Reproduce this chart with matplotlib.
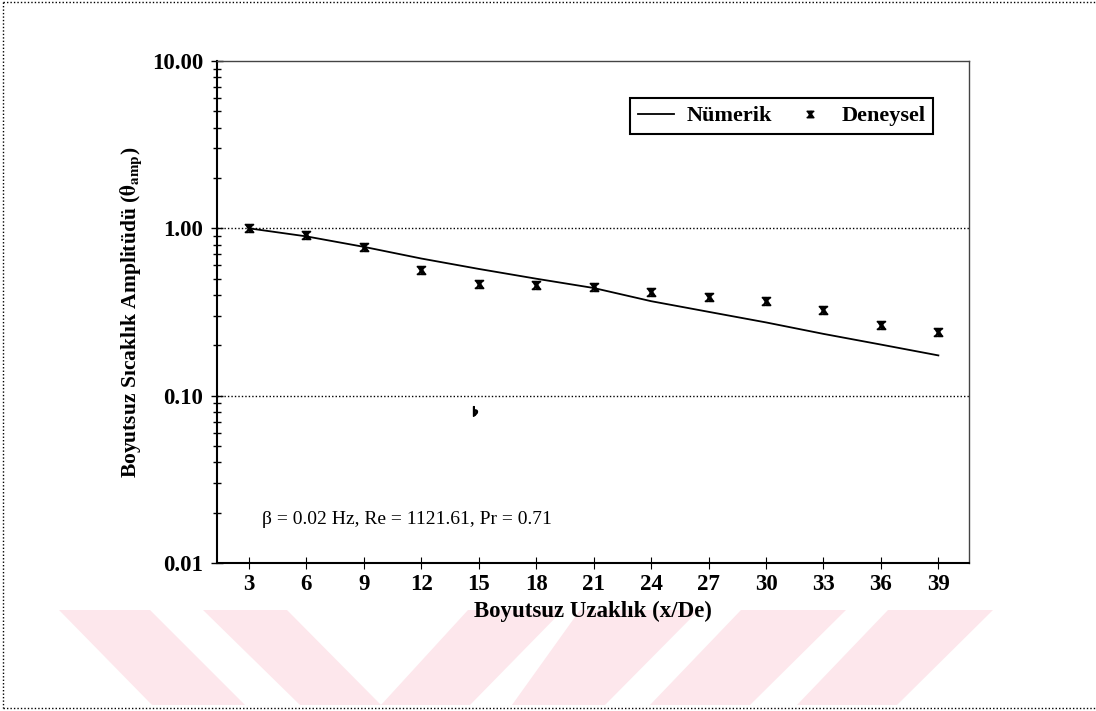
import matplotlib
matplotlib.use("Agg")
import matplotlib.pyplot as plt
from matplotlib.patches import Polygon
from matplotlib.lines import Line2D
from matplotlib.ticker import FixedLocator, LogLocator, NullFormatter

plt.rcParams['font.family'] = ['Liberation Serif', 'DejaVu Serif']
plt.rcParams['mathtext.fontset'] = 'stix'

# ---- data ----
x_num = [3, 6, 9, 12, 15, 18, 21, 24, 27, 30, 33, 36, 39]
y_num = [1.00, 0.895, 0.775, 0.66, 0.572, 0.50, 0.44, 0.367, 0.317, 0.274, 0.234, 0.202, 0.174]
x_exp = [3, 6, 9, 12, 15, 18, 21, 24, 27, 30, 33, 36, 39]
y_exp = [1.00, 0.915, 0.773, 0.56, 0.462, 0.46, 0.445, 0.419, 0.391, 0.370, 0.327, 0.265, 0.240]
stray_x = [14.8]
stray_y = [0.081]
x_ticks = [3, 6, 9, 12, 15, 18, 21, 24, 27, 30, 33, 36, 39]
y_ticks = [0.01, 0.1, 1.0, 10.0]
y_ticklabels = ['0.01', '0.10', '1.00', '10.00']
annotation = r'β = 0.02 Hz, Re = 1121.61, Pr = 0.71'

W, H = 1096, 711
fig = plt.figure(figsize=(W / 100, H / 100), dpi=100)

# watermark (light pink stripes), pixel coords -> figure fraction
def px(pts):
    return [(x / W, 1 - y / H) for x, y in pts]

wm_color = '#fde7ec'
stripes = [
    [(59, 610), (150, 610), (245, 705), (152, 705)],
    [(203, 610), (287, 610), (381, 705), (300, 705)],
    [(468, 610), (563, 610), (470, 705), (381, 705)],
    [(580, 610), (699, 610), (605, 705), (512, 705)],
    [(741, 610), (846, 610), (750, 705), (650, 705)],
    [(888, 610), (993, 610), (897, 705), (797, 705)],
]
for s in stripes:
    fig.patches.append(Polygon(px(s), closed=True, transform=fig.transFigure,
                               facecolor=wm_color, edgecolor='none', zorder=-10))

# dotted page border (top, left, bottom)
for (x0, y0, x1, y1) in [(3, 2, 1096, 2), (3, 2, 3, 708), (3, 708, 1096, 708)]:
    fig.lines.append(Line2D([x0 / W, x1 / W], [1 - y0 / H, 1 - y1 / H],
                            transform=fig.transFigure, color='black',
                            linestyle=(0, (1, 1.5)), linewidth=1.0))

ax = fig.add_axes([217 / W, 1 - 563 / H, (969 - 217) / W, (563 - 61) / H])
ax.set_facecolor('none')
ax.set_yscale('log')
ax.set_ylim(0.01, 10)
ax.set_xlim(1.33, 40.6)

ax.plot(x_num, y_num, color='black', linewidth=1.3, label='Nümerik', zorder=3)
ax.plot(x_exp, y_exp, linestyle='none', marker=r'$\mathbf{x}$', markersize=6,
        color='black', label='Deneysel', zorder=4)
ax.plot(stray_x, stray_y, linestyle='none', marker=r'$\mathbf{\flat}$', markersize=7,
        color='black', zorder=4)

# grid at 1 and 0.1
for g in [1.0, 0.1]:
    ax.axhline(g, color='black', linestyle=(0, (1, 1.5)), linewidth=1.0, zorder=1)

ax.yaxis.set_major_locator(FixedLocator(y_ticks))
ax.set_yticklabels(y_ticklabels)
ax.yaxis.set_minor_locator(LogLocator(base=10, subs=range(2, 10)))
ax.yaxis.set_minor_formatter(NullFormatter())
ax.set_xticks(x_ticks)
ax.set_xticklabels([str(t) for t in x_ticks])

ax.tick_params(axis='y', which='major', direction='inout', length=8, width=1,
               labelsize=16.5, pad=6)
ax.tick_params(axis='y', which='minor', direction='inout', length=6, width=1)
ax.tick_params(axis='x', which='major', direction='inout', length=8, width=0.8,
               labelsize=16.5, pad=4)
for lab in ax.get_xticklabels() + ax.get_yticklabels():
    lab.set_fontweight('bold')

for sp in ['left', 'bottom']:
    ax.spines[sp].set_linewidth(1.5)
for sp in ['top', 'right']:
    ax.spines[sp].set_linewidth(1.0)
    ax.spines[sp].set_color('#444444')

ax.set_xlabel('Boyutsuz Uzaklık (x/De)', fontsize=16.5, fontweight='bold', labelpad=4)
ax.set_ylabel(r'Boyutsuz Sıcaklık Amplitüdü ($\mathbf{\theta_{amp}}$)', fontsize=15.5,
              fontweight='bold', labelpad=6)

ax.text(262 / W, 1 - 520 / H, annotation, transform=fig.transFigure, fontsize=14,
        va='center', ha='left')

leg = ax.legend(loc='upper right', bbox_to_anchor=((933 - 217) / 752, (563 - 98) / 502),
                ncol=2, frameon=True, fancybox=False, framealpha=1, edgecolor='black',
                prop={'weight': 'bold', 'size': 16}, handlelength=1.6, handletextpad=0.6,
                columnspacing=0.9, borderpad=0.35, borderaxespad=0, markerscale=0.8)
leg.get_frame().set_linewidth(1.5)

fig.savefig('out.png', dpi=100)
